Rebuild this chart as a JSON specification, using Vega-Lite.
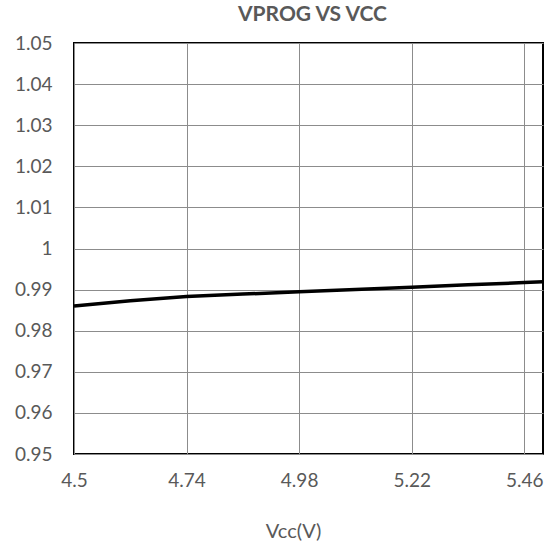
{
  "$schema": "https://vega.github.io/schema/vega-lite/v6.json",
  "autosize": "none",
  "width": 469,
  "height": 411,
  "padding": {"left": 74, "top": 43, "right": 5, "bottom": 94},
  "background": "white",
  "title": {"text": "VPROG VS VCC", "font": "Lato", "fontSize": 21, "fontWeight": "bold", "color": "#595959", "offset": 9, "dx": 4},
  "data": {"values": [
    {"vcc": 4.5, "vprog": 0.986},
    {"vcc": 4.62, "vprog": 0.9873},
    {"vcc": 4.74, "vprog": 0.9883},
    {"vcc": 4.86, "vprog": 0.9889},
    {"vcc": 4.98, "vprog": 0.9895},
    {"vcc": 5.1, "vprog": 0.99},
    {"vcc": 5.22, "vprog": 0.9906},
    {"vcc": 5.34, "vprog": 0.9912},
    {"vcc": 5.46, "vprog": 0.9917},
    {"vcc": 5.5, "vprog": 0.9919}
  ]},
  "mark": {"type": "line", "color": "black", "strokeWidth": 3.5, "clip": true},
  "encoding": {
    "x": {"field": "vcc", "type": "quantitative",
      "scale": {"domain": [4.5, 5.5], "nice": false, "zero": false},
      "axis": {"title": "Vcc(V)", "values": [4.5, 4.74, 4.98, 5.22, 5.46], "format": ".2~f",
        "labelFont": "Lato", "labelFontSize": 19, "labelColor": "#595959", "labelPadding": 17,
        "titleFont": "Lato", "titleFontSize": 20, "titleFontWeight": "normal", "titleColor": "#595959",
        "titleX": 219, "titleY": 83, "titleBaseline": "alphabetic", "titleAlign": "center",
        "ticks": false, "domain": false, "grid": true, "gridColor": "#8c8c8c", "gridWidth": 1, "labelFlush": false}},
    "y": {"field": "vprog", "type": "quantitative",
      "scale": {"domain": [0.95, 1.05], "nice": false, "zero": false},
      "axis": {"title": null, "values": [0.95, 0.96, 0.97, 0.98, 0.99, 1, 1.01, 1.02, 1.03, 1.04, 1.05], "format": ".2~f",
        "labelFont": "Lato", "labelFontSize": 19, "labelColor": "#595959", "labelPadding": 22,
        "ticks": false, "domain": false, "grid": true, "gridColor": "#8c8c8c", "gridWidth": 1}}
  },
  "config": {"view": {"stroke": "black", "strokeWidth": 2}}
}
